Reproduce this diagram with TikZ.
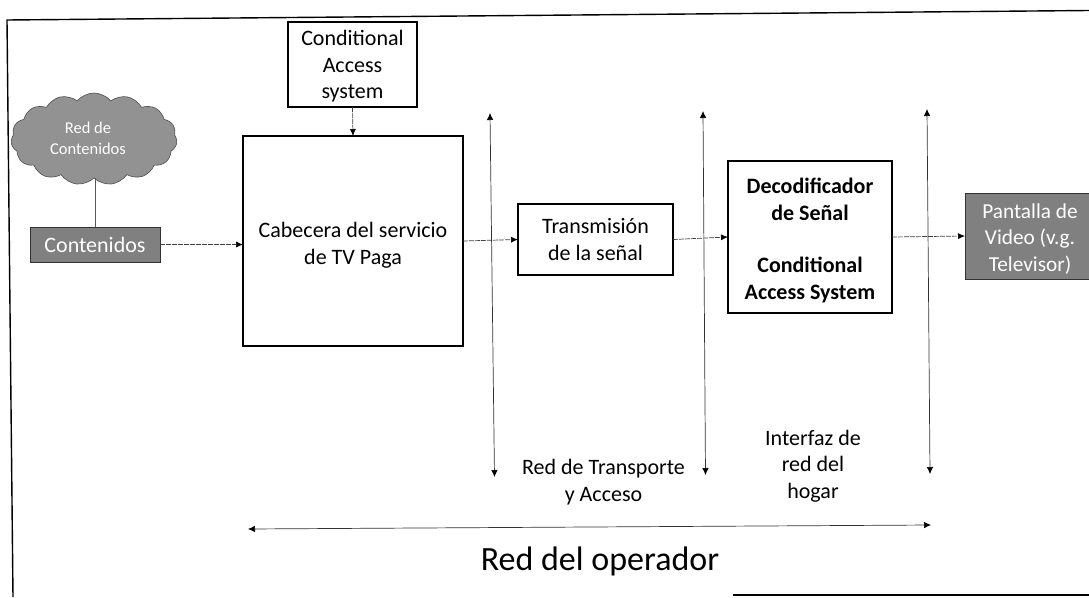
\documentclass[tikz,border=0pt]{standalone}
\usepackage{fontspec}
\setmainfont{Carlito}
\usetikzlibrary{shapes.symbols,arrows.meta}
\definecolor{scangrey}{HTML}{808080}
\definecolor{cloudgrey}{HTML}{929292}
\tikzset{
  x=1pt,y=-1pt,
  boxed/.style={draw=black,line width=1.3pt,fill=white,inner sep=0pt,outer sep=0pt,align=center,font=\fontsize{22}{26.5}\selectfont},
  greybox/.style={draw=black!80,line width=1pt,fill=scangrey,text=white,inner sep=0pt,outer sep=0pt,align=center},
  label/.style={inner sep=0pt,align=center,font=\fontsize{22}{26.5}\selectfont},
  flow/.style={draw=black!75,line width=.7pt,dash pattern=on 5pt off 1pt,-{Latex[length=7pt,width=6pt,black]}},
  span/.style={draw=black!80,line width=.7pt,{Latex[length=7pt,width=6.5pt,black]}-{Latex[length=7pt,width=6.5pt,black]}},
  frameline/.style={draw=black,line width=1.4pt},
}
\begin{document}
\begin{tikzpicture}
\useasboundingbox (0,0) rectangle (1089,597);
% frame
\coordinate (fbl) at (13,597);
\coordinate (ftl) at (7,20);
\coordinate (ftr) at (1089,10.5);
\coordinate (fbm) at (733,595);
\coordinate (fbr) at (1089,595);
\draw[frameline] (fbl) -- (ftl) -- (ftr);
\draw[frameline] (fbm) -- (fbr);
% blocks
\node[draw=black!70,line width=.6pt,fill=cloudgrey,cloud,cloud puffs=15,cloud puff arc=100,aspect=1.8,
  minimum width=166pt,minimum height=92pt,inner sep=0pt,outer sep=0pt] (cloud) at (94,139) {};
\node[inner sep=0pt,text=white,align=center,font=\fontsize{16.5}{21}\selectfont] (cloudtext) at (88,138) {Red de\\Contenidos};
\node[greybox,minimum width=130pt,minimum height=35pt,font=\fontsize{22}{24}\selectfont] (cont) at (95,244.5) {Contenidos};
\node[boxed,minimum width=129pt,minimum height=85pt] (cas) at (352.5,64.5) {\rule{0pt}{19pt}Conditional\\Access\\system};
\node[boxed,minimum width=220pt,minimum height=210pt] (cab) at (353,241) {\rule{0pt}{24pt}Cabecera del servicio\\de TV Paga};
\node[boxed,minimum width=155pt,minimum height=71pt] (tx) at (595.5,239.5) {Transmisión\\de la señal};
\node[boxed,minimum width=164pt,minimum height=152pt,font=\fontsize{22}{26.5}\selectfont\bfseries] (dec) at (810,237) {\rule{0pt}{22pt}Decodificador\\de Señal\\[26pt]Conditional\\Access System};
\node[greybox,minimum width=130pt,minimum height=86pt,font=\fontsize{21.3}{26.5}\selectfont] (pant) at (1030,236) {\rule{0pt}{20pt}Pantalla de\\Video (v.g.\\Televisor)};
% connectors
\draw[draw=black!65,line width=.8pt] (cloud.south -| cont.north) -- (cont.north);
\draw[flow] (cas.south) -- (cab.north);
\draw[flow] (cont.east) -- (cont.east -| cab.west);
\draw[flow] (cab.east) -- (tx.west);
\draw[flow] (tx.east) -- (dec.west);
\draw[flow] (dec.east) -- (pant.west);
% span arrows
\coordinate (a1t) at (490,113);
\coordinate (a1b) at (494.5,477);
\coordinate (a2t) at (703,111);
\coordinate (a2b) at (705.5,475);
\coordinate (a3t) at (927,109);
\coordinate (a3b) at (930,474);
\coordinate (opl) at (248,529);
\coordinate (opr) at (931,525);
\draw[span] (a1t) -- (a1b);
\draw[span] (a2t) -- (a2b);
\draw[span] (a3t) -- (a3b);
\draw[span] (opl) -- (opr);
% labels
\node[label] (lred) at (603.5,482) {Red de Transporte\\y Acceso};
\node[label] (lint) at (813,466) {Interfaz de\\red del\\hogar};
\node[inner sep=0pt,font=\fontsize{34}{38}\selectfont] (lop) at (600,561) {Red del operador};
\end{tikzpicture}
\end{document}
